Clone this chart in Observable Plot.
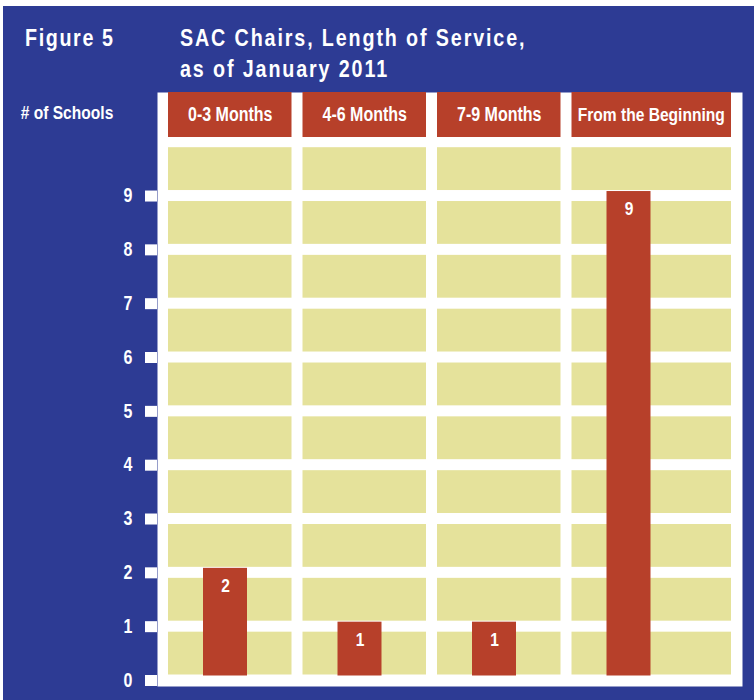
<!DOCTYPE html>
<html>
<head>
<meta charset="utf-8">
<script src="https://cdn.jsdelivr.net/npm/d3@7"></script>
<script src="https://cdn.jsdelivr.net/npm/@observablehq/plot@0.6"></script>
<style>
  html, body { margin: 0; padding: 0; background: #ffffff; }
  #fig { position: absolute; left: 3px; top: 6px; width: 751px; height: 694px; background: #2d3b94;
         font-family: "Liberation Sans", Arial, sans-serif; color: #fff; overflow: hidden; }
  #head { position: relative; height: 80px; }
  .t { position: absolute; top: 16px; font-size: 24px; line-height: 31px; font-weight: bold; letter-spacing: 2.3px;
       white-space: nowrap; transform: scaleX(0.82); transform-origin: 0 0; }
  #figlabel { letter-spacing: 2px; }
  #chart svg { display: block; }
</style>
</head>
<body>
<div id="fig">
  <div id="head">
    <div class="t" id="figlabel" style="left:22px"></div>
    <div class="t" id="title" style="left:177px"></div>
  </div>
  <div id="chart"></div>
</div>
<script>
// ---- data ----
const figureLabel = "Figure 5";
const titleLines = ["SAC Chairs, Length of Service,", "as of January 2011"];
const yLabel = "# of Schools";
const categories = ["0-3 Months", "4-6 Months", "7-9 Months", "From the Beginning"];
const schools = [2, 1, 1, 9];
const yTicks = [0, 1, 2, 3, 4, 5, 6, 7, 8, 9];

// ---- style ----
const FONT = '"Liberation Sans", Arial, sans-serif';
const SQUEEZE = 0.82; // condensed look
const BLUE = "#2d3b94", RED = "#b7402a", YELLOW = "#e5e29b";
const Y0 = 594, UNIT = 53.83, FRAME_TOP = 6;
const headerTop = (Y0 - FRAME_TOP) / UNIT;   // value at the top edge of the frame
const last = categories[categories.length - 1];

document.getElementById("figlabel").textContent = figureLabel;
document.getElementById("title").innerHTML = titleLines.join("<br>");

const data = categories.map((c, i) => ({cat: c, n: schools[i]}));
const cells = categories.flatMap(c => yTicks.map(k => ({cat: c, lo: k, hi: k + 1})));
const firstCats = categories.filter(c => c !== last);

const chart = Plot.plot({
  width: 751,
  height: 614,
  marginLeft: 154,
  marginRight: 12,
  marginTop: FRAME_TOP,
  marginBottom: 14,
  style: {background: "transparent", color: "white", fontFamily: FONT, overflow: "visible"},
  x: {type: "band", domain: categories, range: [165, 692], paddingInner: 0.0818, paddingOuter: 0, round: false, axis: null},
  y: {domain: [0, 10], range: [Y0, Y0 - 10 * UNIT], axis: null},
  marks: [
    Plot.frame({fill: "white", stroke: "none"}),
    // yellow cells
    Plot.barY(cells.filter(d => d.cat !== last), {x: "cat", y1: "lo", y2: "hi", fill: YELLOW, insetTop: 5.5, insetBottom: 5.5}),
    Plot.barY(cells.filter(d => d.cat === last), {x: "cat", y1: "lo", y2: "hi", fill: YELLOW, insetTop: 5.5, insetBottom: 5.5, insetRight: -36}),
    // header boxes
    Plot.barY(firstCats, {x: d => d, y1: () => 10, y2: () => headerTop, fill: RED, insetBottom: 4.7}),
    Plot.barY([last], {x: d => d, y1: () => 10, y2: () => headerTop, fill: RED, insetBottom: 4.7, insetRight: -36}),
    Plot.text(firstCats, {x: d => d, y: () => (10 + headerTop) / 2, text: d => d, dy: -2.5, fill: "white", fontSize: 19.5, fontWeight: "bold", fontFamily: FONT}),
    Plot.text([last], {x: d => d, y: () => (10 + headerTop) / 2, text: d => d, dx: 17.5, dy: -2.5, fill: "white", fontSize: 19, fontWeight: "bold", fontFamily: FONT}),
    // bars
    Plot.barY(data, {x: "cat", y: "n", fill: RED, insetLeft: 35, insetRight: 44.5, dy: -4.5}),
    Plot.text(data, {x: "cat", y: "n", text: d => String(d.n), dx: -4.75, dy: 13, fill: "white", fontSize: 19, fontWeight: "bold", fontFamily: FONT}),
    // y axis
    Plot.axisY(yTicks, {tickSize: 12, tickPadding: 13, color: "white", strokeWidth: 11, fontSize: 19.5, fontWeight: "bold", fontFamily: FONT, tickFormat: d => String(d), label: null}),
    Plot.text([yLabel], {frameAnchor: "top-left", text: d => d, textAnchor: "middle", lineAnchor: "middle", dx: -90.5, dy: 20.5, fill: "white", fontSize: 19, fontWeight: "bold", fontFamily: FONT})
  ]
});
document.getElementById("chart").appendChild(chart);

// condense every SVG label horizontally (no condensed face is installed)
chart.querySelectorAll("text").forEach(t => {
  const L = t.getComputedTextLength();
  if (L > 0) {
    t.setAttribute("textLength", (L * SQUEEZE).toFixed(2));
    t.setAttribute("lengthAdjust", "spacingAndGlyphs");
  }
});
</script>
</body>
</html>
